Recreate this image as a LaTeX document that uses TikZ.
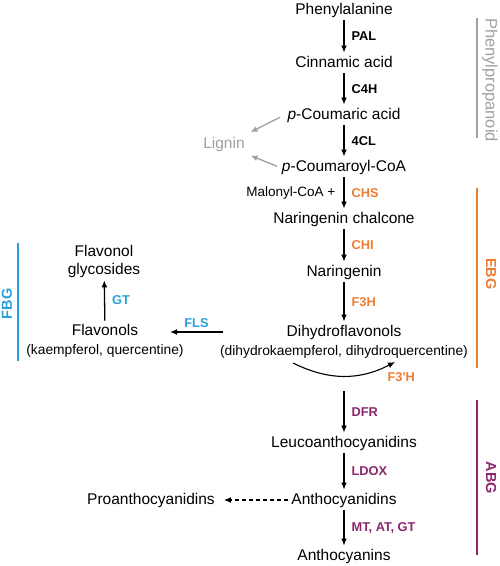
\documentclass[tikz,border=0pt]{standalone}
\usepackage{fontspec}
\setmainfont{Liberation Sans}
\usepackage{tikz}
\usetikzlibrary{arrows.meta}

\definecolor{phcol}{RGB}{160,160,160}
\definecolor{ebgcol}{RGB}{237,125,49}
\definecolor{abgcol}{RGB}{139,38,110}
\definecolor{fbgcol}{RGB}{41,160,218}

\tikzset{
	met/.style={inner sep=2.5pt, text height=11.3pt, text depth=3.3pt, font=\fontsize{15.5}{18}\selectfont},
	sub/.style={inner sep=1pt, font=\fontsize{13.8}{16}\selectfont},
	enz/.style={right, inner sep=7pt, font=\fontsize{12.8}{14}\selectfont\bfseries},
	pre/.style={left, inner sep=8pt, font=\fontsize{13.5}{16}\selectfont},
	grp/.style={inner sep=0pt, font=\fontsize{14.5}{16}\selectfont\bfseries},
	bar/.style={line width=2.2pt}
}

\begin{document}
\begin{tikzpicture}[x=1pt, y=-1pt, >={Latex[length=7pt, width=6pt]}, line width=1.3pt]
	\useasboundingbox (0,0) rectangle (500,566);
	% main column
	\node[met] (phe) at (344,10) {Phenylalanine};
	\node[met] (cin) at (344,63) {Cinnamic acid};
	\node[met] (pca) at (344,115) {\textit{p}-Coumaric acid};
	\node[met] (pcoa) at (344,167) {\textit{p}-Coumaroyl-CoA};
	\node[met, text=phcol] (lig) at (224,144) {Lignin};
		\node[met] (nc) at (344,219) {Naringenin chalcone};
		\node[met] (nar) at (344,272) {Naringenin};
		\node[met] (dhf) at (344,332) {Dihydroflavonols};
		\node[sub] (dhfsub) at (344,352) {(dihydrokaempferol, dihydroquercentine)};
			\node[met] (leu) at (344,443) {Leucoanthocyanidins};
			\node[met] (acd) at (344,500) {Anthocyanidins};
			\node[met] (acn) at (344,556) {Anthocyanins};
			\node[met] (pro) at (151,500) {Proanthocyanidins};
	% flavonol branch
	\node[met] (fol) at (105,331) {Flavonols};
	\node[sub] (folsub) at (105,351) {(kaempferol, quercentine)};
	\node[met, align=center, text height=, text depth=] (gly) at (104,261) {Flavonol\\glycosides};
	\coordinate (flsa) at (223,332);
	\coordinate (flsb) at (170,332);
	\coordinate (f3a) at (293,363);
	\coordinate (f3b) at (395,362);
	\coordinate (dfra) at (344,391);
	\node[enz, right=0pt, inner sep=0pt, text=ebgcol] (f3h) at (387,377) {F3\textquotesingle H};
	% connectors
	\draw[->] (phe) to node [enz] {PAL} (cin);
	\draw[->] (cin) to node [enz] {C4H} (pca);
	\draw[->] (pca) to node [enz] {4CL} (pcoa);
	\draw[->, phcol, shorten <=5pt, shorten >=3pt] (pca.west) to (lig.north east);
	\draw[->, phcol, shorten <=2pt, shorten >=3pt] (pcoa.west) to (lig.south east);
	\draw[->] (pcoa) to node [enz, text=ebgcol] {CHS} node [pre] {Malonyl-CoA +} (nc);
	\draw[->] (nc) to node [enz, text=ebgcol] {CHI} (nar);
	\draw[->] (nar) to node [enz, text=ebgcol] {F3H} (dhf);
	\draw[line width=1.1pt, ->] (f3a) to [bend right=27] (f3b);
	\draw[->] (flsa) to node [above, inner sep=4pt, font=\fontsize{12.8}{14}\selectfont\bfseries, text=fbgcol] {FLS} (flsb);
	\draw[->] (fol) to node [enz, text=fbgcol] {GT} (gly);
	\draw[->] (dfra) to node [enz, text=abgcol] {DFR} (leu);
	\draw[->] (leu) to node [enz, text=abgcol] {LDOX} (acd);
	\draw[->] (acd) to node [enz, text=abgcol] {MT, AT, GT} (acn);
	\draw[->, dashed, dash pattern=on 4pt off 3pt, shorten >=6pt] (acd) to (pro);
	% group bars
	\draw[bar, phcol] (477,18) -- (477,138);
	\node[grp, rotate=-90, text=phcol, font=\fontsize{16.5}{18}\selectfont] (phl) at (490,80) {Phenylpropanoid};
	\draw[bar, ebgcol] (477,188) -- (477,368);
	\node[grp, rotate=-90, text=ebgcol] (ebl) at (491,274) {EBG};
	\draw[bar, abgcol] (477,400) -- (477,555);
	\node[grp, rotate=-90, text=abgcol] (abl) at (491,478) {ABG};
	\draw[bar, fbgcol] (18,243) -- (18,361);
	\node[grp, rotate=90, text=fbgcol] (fbl) at (7,304) {FBG};
\end{tikzpicture}
\end{document}
